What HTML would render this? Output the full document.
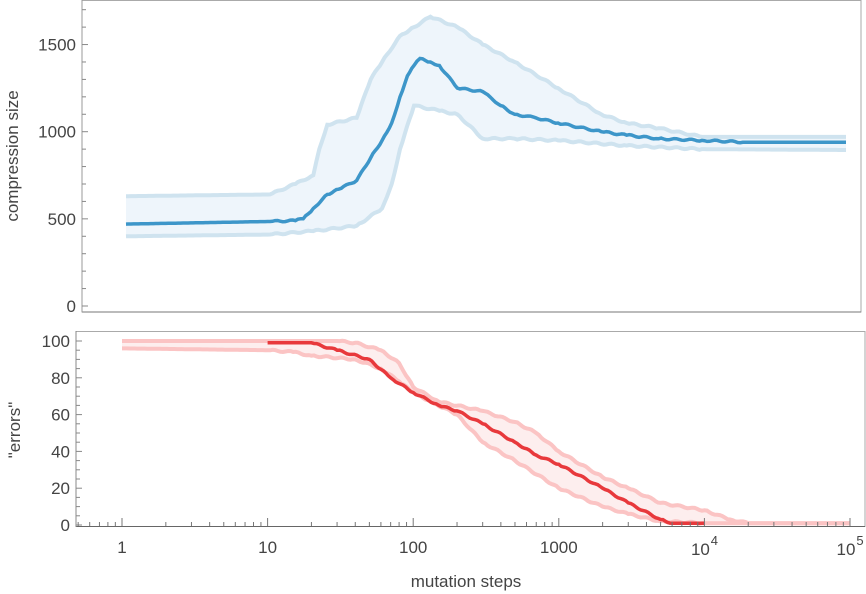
<!DOCTYPE html>
<html><head><meta charset="utf-8"><style>
html,body{margin:0;padding:0;background:#fff;width:866px;height:594px;overflow:hidden}
svg text{font-family:"Liberation Sans",sans-serif;fill:#444}
</style></head><body>
<svg id="s" width="866" height="594" xmlns="http://www.w3.org/2000/svg">
<rect x="82" y="0.5" width="779" height="311.5" fill="none" stroke="#aaa"/>
<line x1="82" y1="312" x2="861" y2="312" stroke="#777"/>
<line x1="82" y1="0" x2="82" y2="312" stroke="#999"/>
<rect x="76" y="331.5" width="789" height="195" fill="none" stroke="#aaa"/>
<line x1="76" y1="526.5" x2="865" y2="526.5" stroke="#666"/>
<line x1="76" y1="331" x2="76" y2="527" stroke="#888"/>
<g id="top"></g><g id="bot"></g><g id="ax"></g>
<text x="18" y="156" font-size="17" transform="rotate(-90 18 156)" text-anchor="middle">compression size</text>
<text x="20" y="430" font-size="17" transform="rotate(-90 20 430)" text-anchor="middle">"errors"</text>
<text x="466" y="587" font-size="17" text-anchor="middle">mutation steps</text>
</svg>
<script>
var NS="http://www.w3.org/2000/svg";
function el(p,t,a,txt){var e=document.createElementNS(NS,t);for(var k in a)e.setAttribute(k,a[k]);if(txt!=null)e.textContent=txt;document.getElementById(p).appendChild(e);return e;}
function L(v){return Math.log10(v);}
function pts(data,fx,fy){var o=[];for(var i=0;i<data.length;i++){var x=fx(data[i][0]),y=fy(data[i][1]);if(i>0){var px=fx(data[i-1][0]),py=fy(data[i-1][1]);var n=Math.max(1,Math.round((x-px)/2.5));for(var j=1;j<n;j++){var t=j/n;var jit=(i>1&&i<data.length-1)?(Math.sin(i*13.7+j*7.3)*0.8):0;o.push([px+(x-px)*t,py+(y-py)*t+jit]);}}o.push([x,y]);}return o;}
function path(p){return "M"+p.map(function(q){return q[0].toFixed(1)+","+q[1].toFixed(1)}).join("L");}
var tx=function(s){return 126+144*L(s)},ty=function(v){return 306-0.1743*v};
var tm=[[1,470],[10,485],[15,490],[17,500],[20,560],[25,640],[30,670],[40,720],[50,850],[60,950],[70,1050],[80,1200],[90,1320],[100,1380],[110,1420],[130,1400],[150,1380],[200,1250],[300,1230],[400,1150],[500,1100],[700,1080],[1000,1050],[2000,1000],[3000,980],[5000,960],[10000,950],[20000,940],[100000,940]];
var tu=[[1,630],[10,640],[15,700],[20,750],[22,900],[25,1040],[40,1080],[50,1300],[60,1400],[80,1550],[100,1600],[130,1660],[200,1600],[300,1500],[500,1400],[1000,1250],[2000,1100],[3000,1050],[5000,1020],[10000,970],[100000,970]];
var tl=[[1,400],[10,410],[20,430],[40,460],[60,560],[70,700],[80,900],[100,1150],[150,1120],[200,1100],[300,960],[500,960],[1000,950],[3000,920],[10000,900],[100000,895]];
var pu=pts(tu,tx,ty),pl=pts(tl,tx,ty),pm=pts(tm,tx,ty);
el("top","path",{d:path(pu)+"L"+path(pl.slice().reverse()).slice(1)+"Z",fill:"#eef5fb",stroke:"none"});
el("top","path",{d:path(pu),fill:"none",stroke:"#cfe3ef","stroke-width":4});
el("top","path",{d:path(pl),fill:"none",stroke:"#cfe3ef","stroke-width":4});
el("top","path",{d:path(pm),fill:"none",stroke:"#3d96c9","stroke-width":3.5});
var bx=function(s){return 122+145.6*L(s)},by=function(v){return 525-1.84*v};
var bm=[[10,99],[20,99],[30,95],[50,90],[70,80],[100,72],[150,65],[200,62],[300,55],[500,45],[700,38],[1000,33],[2000,20],[3000,12],[5000,3],[6000,1],[10000,1]];
var bu=[[1,100],[30,100],[40,99],[60,95],[80,88],[100,75],[150,67],[300,62],[500,56],[700,50],[1000,40],[2000,26],[3000,20],[5000,12],[10000,8],[15000,3],[20000,1],[100000,1]];
var bl=[[1,96],[10,95],[15,94],[20,92],[40,90],[60,85],[80,78],[100,72],[200,60],[300,45],[500,35],[1000,20],[2000,10],[3000,6],[5000,2],[10000,1],[100000,1]];
var qu=pts(bu,bx,by),ql=pts(bl,bx,by),qm=pts(bm,bx,by);
el("bot","path",{d:path(qu)+"L"+path(ql.slice().reverse()).slice(1)+"Z",fill:"#fdeeee",stroke:"none"});
el("bot","path",{d:path(qu),fill:"none",stroke:"#fbc4c4","stroke-width":4});
el("bot","path",{d:path(ql),fill:"none",stroke:"#fbc4c4","stroke-width":4});
el("bot","path",{d:path(qm),fill:"none",stroke:"#e8393c","stroke-width":3.5});
for(var v=0;v<=1700;v+=100){var y=ty(v);el("ax","line",{x1:82,y1:y,x2:v%500==0?88:86,y2:y,stroke:"#888"});if(v%500==0)el("ax","text",{x:76,y:y+6,"font-size":17,"text-anchor":"end"},v);}
for(var v=0;v<=100;v+=5){var y=by(v);el("ax","line",{x1:76,y1:y,x2:v%20==0?82:80,y2:y,stroke:"#888"});if(v%20==0)el("ax","text",{x:70,y:y+6,"font-size":17,"text-anchor":"end"},v);}
for(var d=-1;d<=5;d++){for(var m=1;m<10;m++){var s=m*Math.pow(10,d);var x=bx(s);if(x<78||x>862)continue;el("ax","line",{x1:x,y1:526,x2:x,y2:m==1?518:522,stroke:"#777"});}}
var lab=["1","10","100","1000"];for(var i=0;i<4;i++)el("ax","text",{x:bx(Math.pow(10,i)),y:553,"font-size":17,"text-anchor":"middle"},lab[i]);
[4,5].forEach(function(e){var x=bx(Math.pow(10,e));el("ax","text",{x:x-4,y:555,"font-size":17,"text-anchor":"middle"},"10");el("ax","text",{x:x+10,y:545,"font-size":13,"text-anchor":"middle"},e);});
</script>
</body></html>
